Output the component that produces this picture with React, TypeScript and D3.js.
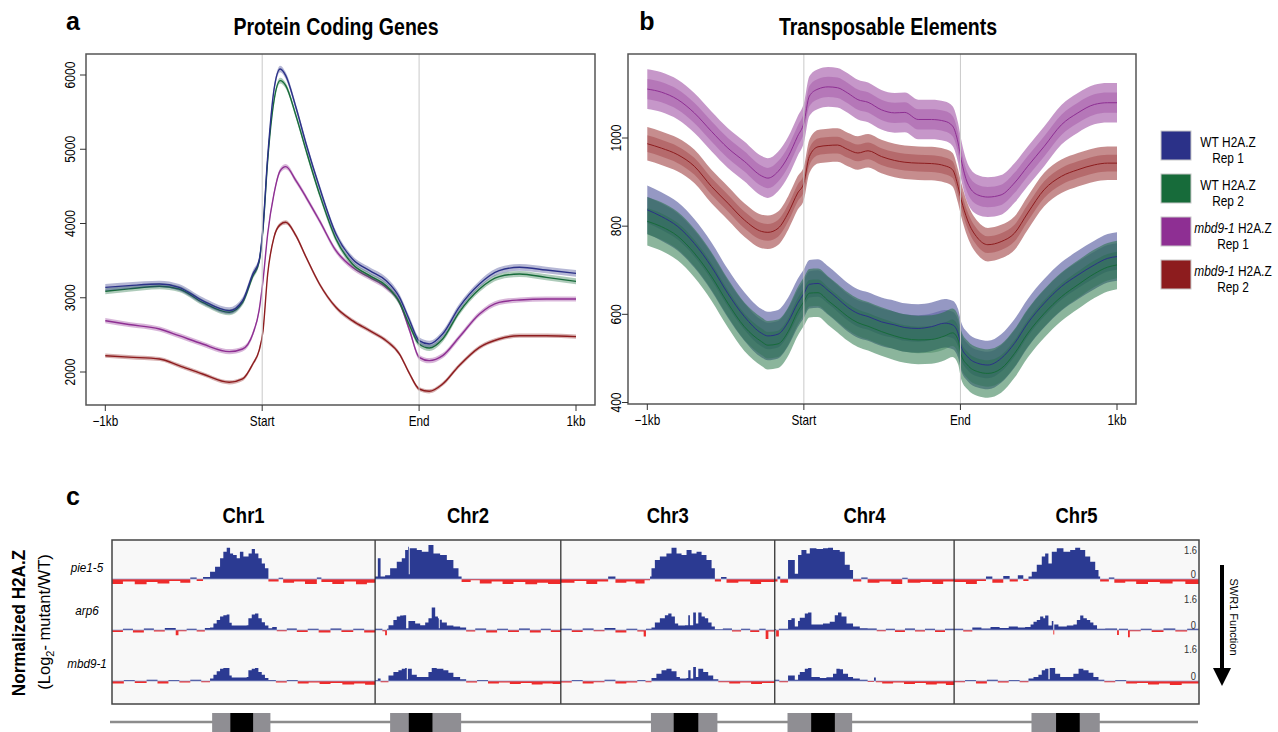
import React from 'react';
import * as d3 from 'd3';

// ---------- panels a / b : metaplot data ----------
const xTickPos = [0, 20, 40, 60];
const xTickLabels = ['\u22121kb', 'Start', 'End', '1kb'];

const positionsA = [0, 3, 6.9, 9.4, 12.4, 15.8, 17.5, 18.8, 19.6, 20.1, 20.7, 21.5, 22.3, 23, 24.3, 25.6, 27.3, 29.4, 31.5, 33.7, 35.8, 37.5, 38.8, 40, 41.3, 43, 45.1, 47.7, 50.2, 52.8, 56.2, 60];
const wtRep1A = [3140, 3163, 3185, 3140, 2961, 2826, 2961, 3320, 3500, 3950, 4900, 5800, 6081, 5992, 5565, 5071, 4487, 3859, 3522, 3365, 3230, 3006, 2691, 2422, 2377, 2512, 2871, 3185, 3365, 3410, 3374, 3329];
const wtRep2A = [3087, 3120, 3154, 3118, 2938, 2804, 2938, 3290, 3480, 3920, 4850, 5650, 5924, 5857, 5453, 4981, 4398, 3792, 3455, 3298, 3163, 2938, 2624, 2377, 2323, 2445, 2804, 3118, 3284, 3320, 3275, 3221];
const mbdRep1A = [2691, 2640, 2579, 2489, 2377, 2274, 2310, 2512, 2826, 3230, 3859, 4398, 4712, 4766, 4577, 4353, 4038, 3634, 3410, 3275, 3140, 2938, 2556, 2198, 2153, 2220, 2467, 2781, 2938, 2970, 2983, 2983];
const mbdRep2A = [2220, 2200, 2175, 2085, 1973, 1861, 1906, 2108, 2287, 2550, 3320, 3814, 3985, 4016, 3837, 3545, 3185, 2871, 2691, 2556, 2422, 2242, 1973, 1771, 1740, 1838, 2085, 2332, 2445, 2489, 2489, 2476];
const bandA = [45, 40, 35, 28];
const yTicksA = [2000, 3000, 4000, 5000, 6000];

const positionsB = [0, 1.8, 3.9, 6, 8.2, 10.3, 12.4, 14.6, 15.4, 16.7, 18, 19.2, 20, 20.7, 21.8, 23.1, 24.3, 25.6, 26.9, 28.2, 29.9, 31.6, 32.9, 34.6, 36.3, 38, 39, 39.7, 40.1, 40.9, 42.2, 43.5, 45.2, 46.9, 48.6, 50.7, 52.9, 55, 57.1, 58.8, 60];
const wtRep1B = [837, 822, 799, 761, 708, 647, 595, 557, 551, 555, 583, 625, 647, 668, 670, 654, 636, 616, 602, 595, 583, 576, 570, 568, 572, 580, 576, 557, 527, 504, 489, 485, 500, 534, 580, 625, 663, 689, 712, 727, 731];
const wtRep2B = [811, 799, 777, 739, 686, 625, 572, 538, 530, 533, 561, 606, 629, 648, 649, 631, 614, 595, 581, 573, 561, 551, 545, 542, 543, 551, 558, 542, 508, 485, 470, 466, 477, 511, 557, 602, 640, 667, 692, 707, 712];
const mbdRep1B = [1111, 1104, 1087, 1057, 1015, 977, 947, 914, 909, 924, 958, 1004, 1034, 1095, 1111, 1116, 1114, 1102, 1087, 1081, 1064, 1057, 1058, 1042, 1042, 1038, 1027, 989, 951, 898, 871, 866, 871, 898, 936, 981, 1030, 1057, 1076, 1080, 1080];
const mbdRep2B = [987, 977, 962, 936, 890, 852, 814, 788, 786, 795, 830, 875, 898, 958, 980, 983, 984, 974, 966, 971, 958, 949, 945, 943, 942, 937, 928, 890, 860, 814, 773, 758, 765, 784, 830, 883, 913, 928, 939, 943, 943];
const outerBandB = [55, 55, 45, 38];
const innerBandB = [30, 30, 23, 19];
const yTicksB = [400, 600, 800, 1000];

const seriesColors = ['#2b3188', '#176b3a', '#8e2f93', '#8d1c1e'];
const legendGenotypes = ['WT', 'WT', 'mbd9-1', 'mbd9-1'];
const legendReps = ['Rep 1', 'Rep 2', 'Rep 1', 'Rep 2'];

// ---------- panel c : genome browser data (Mb, log2 ratio) ----------
const chromosomes = ['Chr1', 'Chr2', 'Chr3', 'Chr4', 'Chr5'];
const chrSizesMb = [28.9, 20.4, 23.5, 19.7, 26.9];
const pericentromereMb = [[11.0, 17.4], [1.65, 9.45], [9.9, 17.2], [1.4, 8.5], [8.5, 16.0]];
const centromereMb = [[13.0, 15.5], [3.7, 6.3], [12.4, 15.1], [4.0, 6.6], [11.2, 13.8]];
const trackNames = ['pie1-5', 'arp6', 'mbd9-1'];

const pie15Profile = [
  [[0, -0.2], [1.2, -0.1], [2.5, -0.22], [3.8, -0.12], [5, -0.18], [6.3, -0.08], [7.5, -0.15], [8.6, 0.06], [9.3, -0.08], [10, 0.08], [10.77, 0.3], [11.32, 0.5], [11.87, 0.85], [12.23, 1.12], [12.6, 1.28], [12.97, 1.05], [13.3, 0.98], [13.7, 0.85], [14.05, 1.12], [14.43, 0.92], [15.0, 1.05], [15.35, 1.23], [15.7, 1.05], [16.08, 0.85], [16.45, 0.64], [16.8, 0.44], [17.18, -0.1], [18.3, 0.05], [18.8, -0.15], [20, -0.1], [21.2, -0.2], [22.5, 0.06], [23, -0.12], [24.2, -0.2], [25.5, -0.1], [26.8, -0.22], [28, -0.15], [28.9, -0.15]],
  [[0, 0.1], [0.3, 0.85], [0.6, 0.1], [1.1, 0.15], [1.65, 0.44], [2.38, 0.71], [2.93, 0.85], [3.3, 1.19], [3.62, 1.32], [3.7, 0.2], [3.8, 1.26], [4.58, 1.19], [5.13, 1.12], [5.86, 1.39], [6.41, 1.05], [7.14, 0.98], [7.88, 0.78], [8.6, 0.44], [9.16, 0.1], [9.5, -0.12], [10.5, -0.05], [11.5, -0.18], [12.8, -0.1], [14, -0.2], [15.2, -0.12], [16.5, -0.22], [17.8, -0.15], [19, -0.2], [20.4, -0.2]],
  [[0, -0.15], [1.5, -0.08], [2.8, -0.2], [4, -0.1], [5.2, 0.1], [6, -0.15], [7.2, -0.1], [8.2, -0.18], [9.2, -0.05], [9.8, 0.1], [9.96, 0.44], [10.33, 0.78], [10.88, 0.92], [11.6, 1.05], [12.16, 1.28], [12.71, 1.05], [13.26, 0.98], [13.81, 1.19], [14.36, 1.05], [14.91, 1.12], [15.46, 0.98], [16.0, 0.78], [16.56, 0.44], [16.92, -0.1], [17.6, 0.08], [18.2, -0.15], [19.5, -0.1], [20.8, -0.2], [22, -0.12], [23.5, -0.12]],
  [[0, -0.1], [0.3, 0.1], [0.6, -0.15], [1.46, 0.78], [2.2, 0.22], [2.56, 0.98], [2.93, 1.19], [3.48, 1.05], [3.85, 1.26], [4.58, 1.23], [5.3, 1.26], [5.86, 1.28], [6.4, 1.19], [7.14, 1.12], [7.69, 0.58], [8.24, 0.37], [8.6, -0.1], [9.5, 0.06], [10.2, -0.15], [11.5, -0.1], [12.8, -0.2], [14, 0.05], [14.6, -0.15], [16, -0.12], [17.3, -0.2], [18.5, -0.1], [19.7, -0.1]],
  [[0, -0.12], [1.3, -0.2], [2.5, -0.08], [3.5, 0.1], [4.2, -0.15], [5.4, 0.12], [6.1, -0.1], [7, 0.15], [7.6, -0.08], [8.17, 0.1], [8.53, 0.3], [9.08, 0.58], [9.63, 0.92], [10.0, 1.05], [10.36, 0.64], [10.73, 1.12], [11.28, 1.26], [12.01, 1.12], [12.75, 1.19], [13.3, 1.28], [13.85, 1.19], [14.4, 0.92], [14.95, 0.71], [15.5, 0.37], [15.86, 0.1], [16.04, -0.1], [17, 0.06], [17.6, -0.15], [18.8, -0.1], [20, -0.2], [21.3, -0.12], [22.6, -0.18], [24, -0.1], [25.4, -0.2], [26.9, -0.15]],
];
const arp6Profile = [
  [[0, -0.08], [1.2, 0.05], [2.3, -0.1], [3.5, 0.06], [4.6, -0.06], [5.8, 0.08], [7, -0.22], [7.3, -0.05], [8.2, 0.05], [9.3, -0.06], [10.2, 0.08], [10.77, 0.1], [11.14, 0.27], [11.5, 0.41], [11.87, 0.55], [12.23, 0.61], [12.6, 0.64], [12.9, 0.3], [13.15, 0.18], [14.8, 0.2], [14.98, 0.48], [15.35, 0.64], [15.71, 0.68], [16.08, 0.48], [16.45, 0.32], [16.8, 0.18], [17.18, 0.07], [17.6, 0.12], [18.1, -0.05], [19.2, 0.06], [20.3, -0.08], [21.5, 0.05], [22.7, -0.1], [24, 0.06], [25.2, -0.08], [26.5, 0.05], [27.7, -0.1], [28.9, -0.1]],
  [[0, 0.05], [0.8, -0.05], [1.1, -0.22], [1.3, 0.05], [1.47, 0.2], [2.01, 0.41], [2.38, 0.55], [2.75, 0.59], [3.11, 0.61], [3.41, 0.07], [3.66, 0.37], [4.4, 0.27], [4.95, 0.2], [5.5, 0.31], [5.86, 0.48], [6.22, 0.92], [6.6, 0.55], [6.9, 0.48], [7.0, 0.07], [7.1, 0.42], [7.33, 0.31], [7.88, 0.18], [8.6, 0.14], [9.34, 0.1], [10, -0.06], [11, 0.06], [12.2, -0.1], [13.4, 0.05], [14.6, -0.08], [15.8, 0.06], [17, -0.1], [18.2, 0.05], [19.3, -0.08], [20.4, -0.08]],
  [[0, 0.05], [1.2, -0.08], [2.4, 0.06], [3.6, -0.05], [4.8, 0.08], [6, -0.1], [7.2, 0.05], [8.4, -0.06], [9.1, -0.27], [9.35, 0.05], [9.96, 0.1], [10.33, 0.31], [10.88, 0.48], [11.43, 0.61], [11.8, 0.68], [12.16, 0.55], [12.53, 0.27], [12.89, 0.18], [13.63, 0.2], [14.0, 0.61], [14.18, 0.2], [14.54, 0.72], [14.84, 0.27], [15.1, 0.72], [15.46, 0.55], [15.82, 0.48], [16.19, 0.31], [16.56, 0.14], [16.92, 0.03], [17.8, 0.06], [18.8, -0.06], [19.8, 0.05], [20.8, -0.08], [21.8, 0.05], [22.5, -0.37], [22.8, -0.06], [23.5, -0.06]],
  [[0, 0.03], [0.15, -0.27], [0.45, 0.05], [1.46, 0.41], [1.83, 0.48], [2.2, 0.14], [2.56, 0.37], [2.75, 0.5], [3.3, 0.68], [3.66, 0.72], [4.03, 0.23], [4.58, 0.23], [5.3, 0.27], [6.04, 0.34], [6.59, 0.61], [6.95, 0.72], [7.33, 0.55], [7.88, 0.27], [8.6, 0.14], [9.34, 0.07], [10.2, 0.06], [11.2, -0.05], [12.2, 0.05], [13.2, -0.08], [14.3, 0.06], [15.4, -0.06], [16.5, 0.05], [17.6, -0.08], [18.7, 0.05], [19.7, 0.05]],
  [[0, 0.05], [1, -0.06], [2, 0.1], [3, 0.06], [4, 0.12], [5, 0.08], [6, 0.14], [7, 0.1], [7.8, 0.12], [8.4, 0.23], [8.72, 0.34], [9.08, 0.41], [9.45, 0.55], [9.8, 0.48], [10.0, 0.59], [10.36, 0.18], [10.73, 0.37], [10.9, -0.18], [11.0, 0.23], [11.46, 0.14], [12.38, 0.18], [13.1, 0.23], [13.48, 0.41], [13.85, 0.59], [14.2, 0.48], [14.58, 0.41], [14.95, 0.31], [15.3, 0.2], [15.7, 0.05], [16.6, 0.06], [17.9, -0.2], [18.1, 0.05], [19.1, -0.3], [19.3, -0.05], [20.5, 0.05], [21.7, -0.08], [23, 0.06], [24.3, -0.06], [25.6, 0.05], [26.9, 0.05]],
];
const mbd91Profile = [
  [[0, -0.1], [1.3, 0.04], [2.5, -0.08], [3.8, 0.05], [5, -0.1], [6.2, 0.04], [7.4, -0.06], [8.6, 0.05], [9.8, -0.05], [10.77, 0.1], [11.14, 0.26], [11.5, 0.4], [11.87, 0.5], [12.23, 0.53], [12.6, 0.53], [12.9, 0.23], [13.15, 0.14], [14.8, 0.16], [14.98, 0.44], [15.35, 0.5], [15.71, 0.53], [16.08, 0.37], [16.45, 0.26], [16.8, 0.12], [17.18, 0.04], [18, -0.06], [19.2, 0.04], [20.4, -0.1], [21.6, -0.06], [22.8, -0.12], [24, -0.08], [25.3, -0.14], [26.6, -0.1], [27.8, -0.15], [28.9, -0.1]],
  [[0, 0.03], [0.3, 0.1], [0.6, -0.05], [1.47, 0.23], [2.01, 0.37], [2.56, 0.44], [2.93, 0.5], [3.3, 0.53], [3.48, 0.07], [3.6, 0.5], [4.03, 0.26], [4.58, 0.16], [5.3, 0.16], [5.86, 0.37], [6.22, 0.53], [6.77, 0.5], [7.5, 0.44], [8.05, 0.34], [8.6, 0.16], [9.34, 0.07], [10, -0.06], [11.2, 0.04], [12.4, -0.1], [13.6, -0.06], [14.8, -0.12], [16, -0.08], [17.2, -0.14], [18.4, -0.1], [19.5, -0.12], [20.4, -0.12]],
  [[0, -0.06], [1.2, 0.04], [2.4, -0.1], [3.6, -0.05], [4.8, 0.05], [6, -0.1], [7.2, -0.06], [8.4, 0.04], [9.3, -0.05], [9.96, 0.12], [10.5, 0.3], [11.06, 0.44], [11.6, 0.5], [12.16, 0.4], [12.71, 0.16], [13.08, 0.1], [13.81, 0.12], [14.0, 0.44], [14.25, 0.1], [14.54, 0.57], [14.84, 0.16], [15.1, 0.5], [15.64, 0.37], [16.19, 0.23], [16.74, 0.07], [17.3, -0.05], [18.5, -0.1], [19.7, -0.06], [20.9, -0.12], [22.1, -0.08], [23.5, -0.1]],
  [[0, 0.05], [0.5, -0.05], [1.46, 0.23], [1.83, 0.23], [2.2, 0.05], [2.56, 0.26], [2.75, 0.37], [3.3, 0.5], [3.66, 0.53], [4.03, 0.16], [4.95, 0.12], [5.67, 0.15], [6.4, 0.3], [6.77, 0.5], [7.14, 0.48], [7.5, 0.3], [8.05, 0.16], [8.6, 0.1], [9.34, 0.05], [10.2, -0.04], [10.9, 0.14], [11.1, -0.05], [11.8, -0.1], [13, -0.06], [14.2, -0.12], [15.4, -0.08], [16.6, -0.14], [17.8, -0.1], [18.8, -0.16], [19.7, -0.1]],
  [[0, -0.05], [1.2, 0.04], [2.4, -0.1], [3.6, 0.05], [4.8, -0.06], [6, 0.04], [7.2, -0.05], [8.17, 0.1], [8.72, 0.16], [9.26, 0.26], [9.63, 0.44], [10.0, 0.5], [10.36, 0.07], [10.5, 0.53], [10.73, 0.53], [11.1, 0.3], [11.65, 0.16], [12.38, 0.16], [13.1, 0.3], [13.67, 0.5], [14.2, 0.44], [14.77, 0.34], [15.3, 0.16], [15.86, 0.05], [16.5, -0.05], [17.7, 0.04], [18.9, -0.1], [20.1, -0.08], [21.3, -0.14], [22.5, -0.1], [23.7, -0.16], [25, -0.1], [26.9, -0.1]],
];
const trackProfiles = [pie15Profile, arp6Profile, mbd91Profile];
const trackRangeMax = 1.6;

const FONT = 'Liberation Sans, Arial, Helvetica, sans-serif';

type TxtProps = {
  x: number; y: number; size: number; bold?: boolean; italic?: boolean;
  anchor?: 'start' | 'middle' | 'end'; rotate?: number; sx?: number; fill?: string;
  children: React.ReactNode;
};
function Txt({ x, y, size, bold, italic, anchor = 'middle', rotate = 0, sx = 1, fill = '#000', children }: TxtProps) {
  return (
    <text
      transform={`translate(${x},${y}) rotate(${rotate}) scale(${sx},1)`}
      fontSize={size}
      fontWeight={bold ? 'bold' : 'normal'}
      fontStyle={italic ? 'italic' : 'normal'}
      textAnchor={anchor}
      fill={fill}
    >
      {children}
    </text>
  );
}

type Box = { x0: number; x1: number; y0: number; y1: number };

function Frame({ box, x, y, yTicks, labelGap }: { box: Box; x: d3.ScaleLinear<number, number>; y: d3.ScaleLinear<number, number>; yTicks: number[]; labelGap: number }) {
  return (
    <g>
      {[20, 40].map((p) => (
        <line key={p} x1={x(p)} x2={x(p)} y1={box.y0} y2={box.y1} stroke="#c9c9c9" strokeWidth={1} />
      ))}
      <rect x={box.x0} y={box.y0} width={box.x1 - box.x0} height={box.y1 - box.y0} fill="none" stroke="#555" strokeWidth={1.5} />
      {xTickPos.map((p, i) => (
        <g key={p}>
          <line x1={x(p)} x2={x(p)} y1={box.y1} y2={box.y1 + 6} stroke="#333" />
          <Txt x={x(p)} y={box.y1 + 21} size={14} sx={0.84}>{xTickLabels[i]}</Txt>
        </g>
      ))}
      {yTicks.map((t) => (
        <g key={t}>
          <line x1={box.x0 - 6} x2={box.x0} y1={y(t)} y2={y(t)} stroke="#333" />
          <Txt x={box.x0 - labelGap} y={y(t)} size={14} sx={0.86} rotate={-90}>{t}</Txt>
        </g>
      ))}
    </g>
  );
}

function PanelA() {
  const box: Box = { x0: 86, x1: 595, y0: 54, y1: 405 };
  const x = d3.scaleLinear().domain([0, 60]).range([105.3, 576]);
  const y = d3.scaleLinear().domain([2000, 6000]).range([372, 75]);
  const series = [mbdRep2A, mbdRep1A, wtRep2A, wtRep1A];
  const colorIdx = [3, 2, 1, 0];
  return (
    <g>
      {series.map((vals, k) => {
        const ci = colorIdx[k];
        const band = bandA[ci];
        const area = d3.area<number>().x((_, i) => x(positionsA[i])).y0((v) => y(v - band)).y1((v) => y(v + band)).curve(d3.curveMonotoneX);
        const line = d3.line<number>().x((_, i) => x(positionsA[i])).y((v) => y(v)).curve(d3.curveMonotoneX);
        return (
          <g key={k}>
            <path d={area(vals) || ''} fill={seriesColors[ci]} opacity={0.35} />
            <path d={line(vals) || ''} fill="none" stroke={seriesColors[ci]} strokeWidth={1.4} />
          </g>
        );
      })}
      <Frame box={box} x={x} y={y} yTicks={yTicksA} labelGap={11} />
      <Txt x={336} y={35} size={23} bold sx={0.85}>Protein Coding Genes</Txt>
      <Txt x={73} y={30} size={25} bold>a</Txt>
    </g>
  );
}

function PanelB() {
  const box: Box = { x0: 628, x1: 1136, y0: 54, y1: 404 };
  const x = d3.scaleLinear().domain([0, 60]).range([647.3, 1117]);
  const y = d3.scaleLinear().domain([400, 1000]).range([402.5, 138]);
  const series = [wtRep1B, wtRep2B, mbdRep1B, mbdRep2B];
  const order = [2, 3, 0, 1];
  return (
    <g>
      {order.map((ci) => {
        const vals = series[ci];
        const mk = (w: number) => d3.area<number>().x((_, i) => x(positionsB[i])).y0((v) => y(v - w)).y1((v) => y(v + w)).curve(d3.curveMonotoneX)(vals) || '';
        return (
          <g key={ci}>
            <path d={mk(outerBandB[ci])} fill={seriesColors[ci]} opacity={0.5} />
            <path d={mk(innerBandB[ci])} fill={seriesColors[ci]} opacity={0.3} />
          </g>
        );
      })}
      {order.map((ci) => {
        const line = d3.line<number>().x((_, i) => x(positionsB[i])).y((v) => y(v)).curve(d3.curveMonotoneX);
        return <path key={ci} d={line(series[ci]) || ''} fill="none" stroke={seriesColors[ci]} strokeWidth={1} />;
      })}
      <Frame box={box} x={x} y={y} yTicks={yTicksB} labelGap={7} />
      <Txt x={888} y={35} size={23} bold sx={0.85}>Transposable Elements</Txt>
      <Txt x={647} y={30} size={25} bold>b</Txt>
      {legendGenotypes.map((g, i) => {
        const top = 131 + i * 43;
        const cx = g === 'WT' ? 1228 : 1233;
        return (
          <g key={i}>
            <rect x={1161} y={top} width={30} height={29} fill={seriesColors[i]} stroke="#c8c8c8" strokeWidth={1} />
            <text transform={`translate(${cx},${top + 16}) scale(0.85,1)`} fontSize={14} textAnchor="middle">
              {g === 'WT' ? <tspan>WT</tspan> : <tspan fontStyle="italic">{g}</tspan>}
              <tspan> H2A.Z</tspan>
            </text>
            <Txt x={cx} y={top + 32} size={14} sx={0.85}>{legendReps[i]}</Txt>
          </g>
        );
      })}
    </g>
  );
}

function PanelC() {
  const left = 112, right = 1199, top = 540, bottom = 704;
  const totalMb = d3.sum(chrSizesMb);
  const gx = d3.scaleLinear().domain([0, totalMb]).range([left, right]);
  const offsets = chrSizesMb.map((_, i) => d3.sum(chrSizesMb.slice(0, i)));
  const baselines = [579, 630, 681];
  const rangeLabelY = [554, 603, 653];
  const trackLabelY = [572, 615, 668];
  return (
    <g>
      <rect x={left} y={top} width={right - left} height={bottom - top} fill="#f8f8f8" />
      {trackProfiles.map((profile, t) => {
        const base = baselines[t];
        const yT = d3.scaleLinear().domain([0, trackRangeMax]).range([base, base - 39]);
        return (
          <g key={t}>
            {profile.map((pts, c) => {
              const px = (d: number[]) => gx(offsets[c] + d[0]);
              const pos = d3.area<number[]>().x(px).y0(base).y1((d) => yT(Math.max(0, d[1]))).curve(d3.curveStepAfter);
              const neg = d3.area<number[]>().x(px).y0(base).y1((d) => yT(Math.min(0, d[1]))).curve(d3.curveStepAfter);
              return (
                <g key={c}>
                  <path d={neg(pts) || ''} fill="#ee2b2b" />
                  <path d={pos(pts) || ''} fill="#2b3a92" />
                </g>
              );
            })}
            <line x1={left} x2={right} y1={base} y2={base} stroke="#9aa2cc" strokeWidth={0.8} />
            <Txt x={1197} y={rangeLabelY[t]} size={11} sx={0.85} anchor="end" fill="#333">{trackRangeMax}</Txt>
            <Txt x={1196} y={base - 1} size={11} sx={0.85} anchor="end" fill="#333">0</Txt>
            <Txt x={87} y={trackLabelY[t]} size={13} italic sx={0.9}>{trackNames[t]}</Txt>
          </g>
        );
      })}
      {offsets.slice(1).map((o, i) => (
        <line key={i} x1={gx(o)} x2={gx(o)} y1={top} y2={bottom} stroke="#222" strokeWidth={1.2} />
      ))}
      <rect x={left} y={top} width={right - left} height={bottom - top} fill="none" stroke="#444" strokeWidth={1.5} />
      {chromosomes.map((c, i) => (
        <Txt key={c} x={gx(offsets[i] + chrSizesMb[i] / 2)} y={523} size={22} bold sx={0.84}>{c}</Txt>
      ))}
      {/* ideogram */}
      <line x1={110} x2={1198} y1={722} y2={722} stroke="#8c8c8c" strokeWidth={2.5} />
      {chromosomes.map((c, i) => (
        <g key={c}>
          <rect x={gx(offsets[i] + pericentromereMb[i][0])} y={713} width={gx(pericentromereMb[i][1]) - gx(pericentromereMb[i][0])} height={20} fill="#8f8e93" />
          <rect x={gx(offsets[i] + centromereMb[i][0])} y={713} width={gx(centromereMb[i][1]) - gx(centromereMb[i][0])} height={20} fill="#000" />
        </g>
      ))}
      <Txt x={73} y={505} size={25} bold>c</Txt>
      <Txt x={25} y={623} size={18} bold sx={0.95} rotate={-90}>Normalized H2A.Z</Txt>
      <text transform="translate(50,622) rotate(-90)" fontSize={16.5} textAnchor="middle">
        (Log<tspan dy={4} fontSize={11}>2</tspan><tspan dy={-4}>- mutant/WT)</tspan>
      </text>
      {/* SWR1 function arrow */}
      <line x1={1222} x2={1222} y1={565} y2={670} stroke="#000" strokeWidth={4} />
      <path d="M1213,668 L1231,668 L1222,686 Z" fill="#000" />
      <Txt x={1230} y={617} size={11} rotate={90}>SWR1 Function</Txt>
    </g>
  );
}

export default function App() {
  return (
    <svg width={1278} height={732} style={{ position: 'absolute', left: 0, top: 0, background: '#fff' }} fontFamily={FONT}>
      <rect width={1278} height={732} fill="#fff" />
      <PanelA />
      <PanelB />
      <PanelC />
    </svg>
  );
}
